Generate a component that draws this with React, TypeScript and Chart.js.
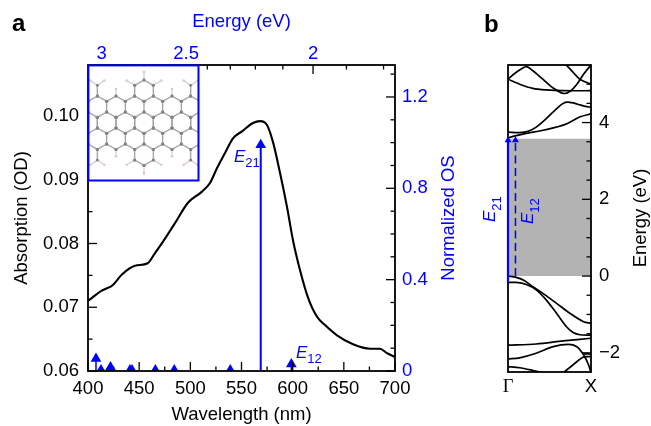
import React, { useEffect, useRef } from "react";
import { Chart, registerables } from "chart.js";

Chart.register(...registerables);

const FONT = "'Liberation Sans', Arial, sans-serif";
const BLUE = "#0000ff";

// Panel a
const wavelengths = [400, 413.4, 424.4, 432.9, 445.9, 458.3, 465.5, 473.3, 485, 497.7, 511.1, 519.2, 526, 533.9, 541.7, 550.5, 561.2, 568.1, 574.9, 580.8, 587.6, 594.5, 600.3, 607.2, 615, 623.8, 631.6, 643.3, 659, 675.6, 685.3, 692.2, 700];
const absorption = [0.071, 0.0726, 0.0735, 0.0751, 0.0765, 0.0769, 0.0785, 0.0803, 0.0832, 0.0864, 0.0881, 0.0895, 0.0918, 0.0942, 0.0965, 0.0976, 0.0989, 0.0992, 0.0986, 0.0959, 0.0911, 0.0857, 0.0805, 0.0758, 0.0715, 0.0685, 0.0672, 0.0656, 0.0642, 0.0635, 0.0635, 0.0628, 0.0622];
const osWavelengths = [407.8, 412.7, 422, 441, 443, 465.8, 484.3, 539, 568.8, 598.7];
const osValues = [0.054, 0.004, 0.017, 0.004, 0.004, 0.004, 0.004, 0.004, 0.99, 0.03];

const wavelengthTicks = [400, 425, 450, 475, 500, 525, 550, 575, 600, 625, 650, 675, 700];
const wavelengthLabels = [400, 450, 500, 550, 600, 650, 700];
const absorptionTicks = [0.06, 0.065, 0.07, 0.075, 0.08, 0.085, 0.09, 0.095, 0.1, 0.105];
const absorptionLabels = [0.06, 0.07, 0.08, 0.09, 0.1];
const osTicks = [0, 0.1, 0.2, 0.3, 0.4, 0.5, 0.6, 0.7, 0.8, 0.9, 1.0, 1.1, 1.2, 1.3];
const osLabels = [0, 0.4, 0.8, 1.2];
const energyTicksTop = [3, 2.9, 2.8, 2.7, 2.6, 2.5, 2.4, 2.3, 2.2, 2.1, 2, 1.9, 1.8];
const energyLabelsTop = [3, 2.5, 2];
const HC = 1239.84;

// Panel b: bands as [k, energy]
const bands: number[][][] = [
  [[0, 3.75], [0.14, 3.74], [0.24, 3.77], [0.34, 3.88], [0.46, 4.1], [0.58, 4.35], [0.665, 4.5], [0.725, 4.53], [0.83, 4.485], [0.93, 4.42], [1, 4.4]],
  [[0, 3.6], [0.1, 3.66], [0.22, 3.72], [0.38, 3.78], [0.545, 3.86], [0.71, 3.97], [0.87, 4.15], [1, 4.225]],
  [[0, 5.13], [0.14, 5.0], [0.3, 4.89], [0.46, 4.85], [0.665, 4.83], [1, 4.83]],
  [[0, 5.13], [0.1, 5.31], [0.22, 5.46], [0.3, 5.35], [0.42, 5.13], [0.545, 4.9], [0.665, 4.76], [0.745, 4.81], [0.83, 5.0], [0.91, 5.26], [1, 5.5]],
  [[0.68, 5.55], [0.785, 5.31], [0.865, 5.13], [1, 5.0]],
  [[0, 0.0], [0.1, -0.035], [0.2, -0.12], [0.3, -0.28], [0.42, -0.45], [0.585, -0.71], [0.745, -0.97], [0.91, -1.19], [1, -1.23]],
  [[0, -0.17], [0.1, -0.165], [0.22, -0.22], [0.34, -0.36], [0.46, -0.62], [0.585, -0.97], [0.705, -1.32], [0.785, -1.47], [0.865, -1.53], [1, -1.54]],
  [[0, -1.8], [0.34, -1.77], [0.665, -1.69], [1, -1.62]],
  [[0, -2.16], [0.14, -2.13], [0.34, -2.01], [0.545, -1.84], [0.725, -1.78], [0.83, -1.84], [0.91, -2.05], [0.97, -2.31], [1, -2.52]],
  [[0, -2.36], [0.14, -2.39], [0.3, -2.46], [0.42, -2.52]],
  [[0.665, -2.52], [0.785, -2.31], [0.91, -2.11], [1, -2.1]],
  [[0.91, -2.03], [1, -2.03]],
];
const gapTop = 3.58;
const e21Range = [-0.17, 3.54];
const e12Range = [0, 3.54];
const e21K = 0;
const e12K = 0.09;
const energyTicks = [-2, -1.5, -1, -0.5, 0, 0.5, 1, 1.5, 2, 2.5, 3, 3.5, 4, 4.5, 5];
const energyLabels = [-2, 0, 2, 4];
const kTicks = [0, 1];
const kLabels = ["Γ", "X"];

const has = (list: number[], v: number) => list.some((x) => Math.abs(x - v) < 1e-6);

// inward ticks + frame, drawn with the chart's own scales
function drawFrame(chart: any, defs: Record<string, string>, majorLen: number, minorLen: number) {
  const { ctx, chartArea: a } = chart;
  ctx.save();
  ctx.strokeStyle = "#000";
  ctx.lineWidth = 1.8;
  ctx.strokeRect(a.left, a.top, a.right - a.left, a.bottom - a.top);
  ctx.lineWidth = 1.3;
  for (const [id, side] of Object.entries(defs)) {
    const s = chart.scales[id];
    s.ticks.forEach((t: any, i: number) => {
      const len = t.label !== "" ? majorLen : minorLen;
      const p = s.getPixelForTick(i);
      ctx.beginPath();
      if (side === "left") { ctx.moveTo(a.left, p); ctx.lineTo(a.left + len, p); }
      if (side === "right") { ctx.moveTo(a.right, p); ctx.lineTo(a.right - len, p); }
      if (side === "top") { ctx.moveTo(p, a.top); ctx.lineTo(p, a.top + len); }
      if (side === "bottom") { ctx.moveTo(p, a.bottom); ctx.lineTo(p, a.bottom - len); }
      ctx.stroke();
    });
  }
  ctx.restore();
}

// panel a: frame above every dataset
const frameA = {
  id: "frameA",
  afterDatasetsDraw(chart: any) {
    drawFrame(chart, { x: "bottom", x2: "top", y: "left", y1: "right" }, 9, 4.5);
  },
};
// panel b: frame above bands and grey gap, but below the solid E21 arrow (dataset 0, drawn last)
const frameB = {
  id: "frameB",
  beforeDatasetDraw(chart: any, args: any) {
    if (args.index === 0) drawFrame(chart, { y: "right" }, 9, 4.5);
  },
};

function subText(ctx: any, x: number, y: number, main: string, sub: string, mainSize: number, subSize: number, dy: number) {
  ctx.font = `italic ${mainSize}px ${FONT}`;
  ctx.fillText(main, x, y);
  const w = ctx.measureText(main).width;
  ctx.font = `${subSize}px ${FONT}`;
  ctx.fillText(sub, x + w, y + dy);
}

function upwardTitle(ctx: any, x: number, y: number, text: string, color: string) {
  ctx.save();
  ctx.translate(x, y);
  ctx.rotate(-Math.PI / 2);
  ctx.fillStyle = color;
  ctx.textAlign = "center";
  ctx.textBaseline = "alphabetic";
  ctx.font = `18.5px ${FONT}`;
  ctx.fillText(text, 0, 0);
  ctx.restore();
}

const insetPlugin = {
  id: "inset",
  afterDraw(chart: any) {
    const { ctx, chartArea: a } = chart;
    const left = a.left, top = a.top, w = 110.5, h = 115.5;
    ctx.save();
    ctx.fillStyle = "#fff";
    ctx.fillRect(left, top, w, h);
    ctx.beginPath();
    ctx.rect(left, top, w, h);
    ctx.clip();
    const cx = left + 56, cy = top + 57.7, ux = 9.33, uy = 10.67;
    const P = (c: number, l: number) => [cx + c * ux, cy - l * uy];
    const bonds: number[][] = [];
    const hBonds: number[][] = [];
    for (const m of [1, -1]) {
      for (let c = -6; c <= 6; c++) {
        const odd = Math.abs(c) % 2 === 1;
        if (c < 6) {
          const l1 = odd ? 0.5 : 1, l2 = odd ? 1 : 0.5;
          bonds.push([c, m * l1, c + 1, m * l2]);
          const l3 = odd ? 2.5 : 2, l4 = odd ? 2 : 2.5;
          bonds.push([c, m * l3, c + 1, m * l4]);
        }
        if (odd) bonds.push([c, -0.5, c, 0.5]);
        else bonds.push([c, m * 1, c, m * 2]);
      }
      for (const c of [-5, -1, 1, 5]) bonds.push([c, m * 2.5, c, m * 3.5]);
      bonds.push([-1, m * 3.5, 0, m * 4], [1, m * 3.5, 0, m * 4]);
      hBonds.push([0, m * 4, 0, m * 4.75]);
      for (const s of [1, -1]) {
        hBonds.push([s * 1, m * 3.5, s * 1.85, m * 3.95]);
        hBonds.push([s * 5, m * 3.5, s * 4.25, m * 3.95]);
        hBonds.push([s * 5, m * 3.5, s * 5.75, m * 3.95]);
        hBonds.push([s * 3, m * 2.5, s * 3, m * 3.15]);
      }
    }
    ctx.lineCap = "round";
    ctx.strokeStyle = "#a2a2a2";
    ctx.lineWidth = 1.3;
    for (const b of bonds) {
      const [x1, y1] = P(b[0], b[1]);
      const [x2, y2] = P(b[2], b[3]);
      ctx.beginPath(); ctx.moveTo(x1, y1); ctx.lineTo(x2, y2); ctx.stroke();
    }
    ctx.strokeStyle = "#d2c2c2";
    ctx.lineWidth = 1.1;
    for (const b of hBonds) {
      const [x1, y1] = P(b[0], b[1]);
      const [x2, y2] = P(b[2], b[3]);
      ctx.beginPath(); ctx.moveTo(x1, y1); ctx.lineTo(x2, y2); ctx.stroke();
      ctx.fillStyle = "#e0cccc";
      ctx.beginPath(); ctx.arc(x2, y2, 1.4, 0, Math.PI * 2); ctx.fill();
    }
    ctx.fillStyle = "#858585";
    for (const b of bonds) {
      for (const k of [0, 2]) {
        const [x, y] = P(b[k], b[k + 1]);
        ctx.beginPath(); ctx.arc(x, y, 1.5, 0, Math.PI * 2); ctx.fill();
      }
    }
    ctx.restore();
    ctx.save();
    ctx.strokeStyle = BLUE;
    ctx.lineWidth = 2;
    ctx.strokeRect(left + 0.4, top + 0.4, w - 0.4, h - 0.4);
    ctx.fillStyle = BLUE;
    ctx.textBaseline = "alphabetic";
    subText(ctx, 234, 162, "E", "21", 17, 13, 5);
    subText(ctx, 296, 358, "E", "12", 17, 13, 5);
    ctx.fillStyle = "#000";
    ctx.font = `bold 24px ${FONT}`;
    ctx.fillText("a", 12, 31);
    ctx.restore();
    upwardTitle(ctx, 454, 218, "Normalized OS", BLUE);
  },
};

const panelBText = {
  id: "panelBText",
  afterDraw(chart: any) {
    const { ctx } = chart;
    ctx.save();
    ctx.fillStyle = "#000";
    ctx.font = `bold 24px ${FONT}`;
    ctx.fillText("b", 484 - 470, 32);
    ctx.fillStyle = BLUE;
    const vert = (x: number, y: number, subX: number, main: string, sub: string) => {
      ctx.save();
      ctx.translate(x - 470, y);
      ctx.rotate(-Math.PI / 2);
      ctx.font = `italic 17px ${FONT}`;
      ctx.fillText(main, 0, 0);
      const w = ctx.measureText(main).width;
      ctx.font = `13px ${FONT}`;
      ctx.fillText(sub, w, subX);
      ctx.restore();
    };
    vert(495, 222, 6, "E", "21");
    vert(532.5, 224, 6, "E", "12");
    ctx.restore();
    upwardTitle(ctx, 646 - 470, 218, "Energy (eV)", "#000");
  },
};

const fixSize = (n: number, horizontal: boolean) => (s: any) => {
  if (horizontal) s.height = n;
  else s.width = n;
};
const setTicks = (values: number[]) => (s: any) => {
  s.ticks = values.map((value) => ({ value }));
};
const titleCfg = (text: string, color: string, pad: number) => ({
  display: true,
  text,
  color,
  font: { family: FONT, size: 18.5 },
  padding: { top: pad, bottom: 0 },
});
const tickFont = { family: FONT, size: 18.5 };

const axisBase = { grid: { display: false, drawTicks: false }, border: { display: false } };
const tickBase = { autoSkip: false, maxRotation: 0, minRotation: 0, font: tickFont };

export default function App() {
  const aRef = useRef<HTMLCanvasElement>(null);
  const bRef = useRef<HTMLCanvasElement>(null);

  useEffect(() => {
    const arrows = osWavelengths.map((w, i) => ({
      type: "scatter" as const,
      label: `os${i}`,
      xAxisID: "x",
      yAxisID: "y1",
      data: [{ x: w, y: 0 }, { x: w, y: osValues[i] }],
      showLine: true,
      borderColor: BLUE,
      borderWidth: osValues[i] > 0.5 ? 2 : 1.5,
      pointStyle: "triangle",
      pointRadius: [0, 6.2],
      pointBackgroundColor: BLUE,
      pointBorderWidth: 0,
    }));
    const chartA = new Chart(aRef.current!, {
      type: "scatter",
      data: {
        datasets: [
          ...arrows,
          {
            label: "Absorption",
            xAxisID: "x",
            yAxisID: "y",
            data: wavelengths.map((x, i) => ({ x, y: absorption[i] })),
            showLine: true,
            borderColor: "#000",
            borderWidth: 2.1,
            pointRadius: 0,
            cubicInterpolationMode: "monotone",
          },
        ],
      } as any,
      options: {
        animation: false,
        responsive: false,
        devicePixelRatio: 1,
        layout: { padding: 0 },
        plugins: { legend: { display: false }, tooltip: { enabled: false } },
        scales: {
          x: {
            ...axisBase,
            type: "linear",
            position: "bottom",
            min: 400,
            max: 700,
            afterBuildTicks: setTicks(wavelengthTicks),
            afterFit: fixSize(55, true),
            ticks: { ...tickBase, color: "#000", padding: 7, callback: (v: any) => (has(wavelengthLabels, v) ? String(v) : "") },
            title: titleCfg("Wavelength (nm)", "#000", 1.4),
          },
          x2: {
            ...axisBase,
            type: "linear",
            position: "top",
            min: 400,
            max: 700,
            afterBuildTicks: setTicks(energyTicksTop.map((e) => HC / e)),
            afterFit: fixSize(65, true),
            ticks: { ...tickBase, color: BLUE, padding: 0, callback: (v: any) => (has(energyLabelsTop, HC / v) ? String(Math.round((HC / v) * 10) / 10) : "") },
            title: titleCfg("Energy (eV)", BLUE, 10.4),
          },
          y: {
            ...axisBase,
            type: "linear",
            position: "left",
            min: 0.06,
            max: 0.108,
            afterBuildTicks: setTicks(absorptionTicks),
            afterFit: fixSize(88, false),
            ticks: { ...tickBase, color: "#000", padding: 9, callback: (v: any) => (has(absorptionLabels, v) ? Number(v).toFixed(2) : "") },
            title: titleCfg("Absorption (OD)", "#000", 11),
          },
          y1: {
            ...axisBase,
            type: "linear",
            position: "right",
            min: 0,
            max: 1.34,
            afterBuildTicks: setTicks(osTicks),
            afterFit: fixSize(75, false),
            ticks: { ...tickBase, color: BLUE, padding: 7, callback: (v: any) => (has(osLabels, v) ? String(v) : "") },
          },
        },
      } as any,
      plugins: [frameA, insetPlugin],
    });

    const chartB = new Chart(bRef.current!, {
      type: "scatter",
      data: {
        datasets: [
          {
            label: "E21",
            data: [{ x: e21K, y: e21Range[0] }, { x: e21K, y: e21Range[1] }],
            showLine: true,
            borderColor: BLUE,
            borderWidth: 2.2,
            pointStyle: "triangle",
            pointRadius: [0, 4],
            pointBackgroundColor: BLUE,
            pointBorderWidth: 0,
            clip: 4,
          },
          {
            label: "E12",
            data: [{ x: e12K, y: e12Range[0] }, { x: e12K, y: e12Range[1] }],
            showLine: true,
            borderColor: BLUE,
            borderWidth: 1.5,
            borderDash: [8, 4.5],
            pointStyle: "triangle",
            pointRadius: [0, 4],
            pointBackgroundColor: BLUE,
            pointBorderWidth: 0,
          },
          ...bands.map((b, i) => ({
            label: `band${i}`,
            data: b.map(([x, y]) => ({ x, y })),
            showLine: true,
            borderColor: "#000",
            borderWidth: 1.7,
            pointRadius: 0,
            tension: 0.3,
          })),
          {
            label: "gap",
            data: [{ x: 0, y: gapTop }, { x: 1, y: gapTop }],
            showLine: true,
            borderWidth: 0,
            borderColor: "rgba(0,0,0,0)",
            pointRadius: 0,
            fill: "origin",
            backgroundColor: "#b3b3b3",
          },
        ],
      } as any,
      options: {
        animation: false,
        responsive: false,
        devicePixelRatio: 1,
        plugins: { legend: { display: false }, tooltip: { enabled: false } },
        scales: {
          x: {
            ...axisBase,
            type: "linear",
            position: "bottom",
            min: 0,
            max: 1,
            afterBuildTicks: setTicks(kTicks),
            afterFit: fixSize(54, true),
            ticks: {
              ...tickBase,
              color: "#000",
              padding: 4,
              font: (ctx: any) => (ctx.index === 0 ? { family: "'Liberation Serif', serif", size: 18.5 } : tickFont),
              callback: (_v: any, i: number) => kLabels[i],
            },
          },
          y: {
            ...axisBase,
            type: "linear",
            position: "right",
            min: -2.5,
            max: 5.5,
            afterBuildTicks: setTicks(energyTicks),
            afterFit: fixSize(60, false),
            ticks: { ...tickBase, color: "#000", padding: 8, callback: (v: any) => (has(energyLabels, v) ? (v < 0 ? "−" + Math.abs(v) : String(v)) : "") },
          },
        },
        layout: { padding: { left: 38, top: 65, bottom: 0, right: 0 } },
      } as any,
      plugins: [frameB, panelBText],
    });

    return () => {
      chartA.destroy();
      chartB.destroy();
    };
  }, []);

  return (
    <div style={{ position: "absolute", left: 0, top: 0, width: 651, height: 426, background: "#fff", overflow: "hidden" }}>
      <canvas ref={aRef} width={470} height={426} style={{ position: "absolute", left: 0, top: 0, display: "block" }} />
      <canvas ref={bRef} width={181} height={426} style={{ position: "absolute", left: 470, top: 0, display: "block" }} />
    </div>
  );
}
